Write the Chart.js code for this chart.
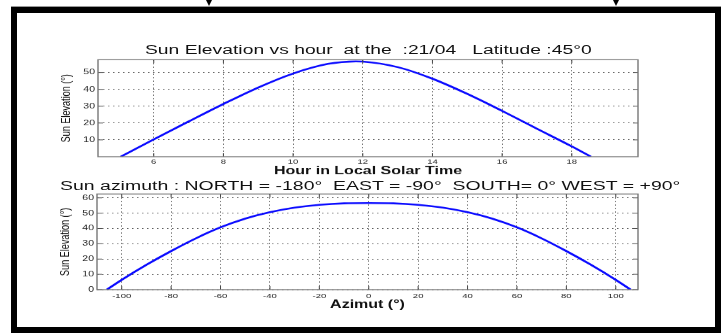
<!DOCTYPE html>
<html>
<head>
<meta charset="utf-8">
<script src="https://cdn.jsdelivr.net/npm/chart.js@4/dist/chart.umd.min.js"></script>
<style>
  body { margin: 0; background: #fff; width: 721px; height: 333px; overflow: hidden; position: relative; }
  #frame { position: absolute; left: 11px; top: 7px; width: 710px; height: 326px; box-sizing: border-box; border: 6px solid #000; }
  #topline { position: absolute; left: 11px; top: 6px; width: 710px; height: 1px; background: #999; }
  .arrow { position: absolute; top: 0; width: 0; height: 0; border-left: 3px solid transparent; border-right: 3px solid transparent; border-top: 6px solid #000; }
  #stage { position: absolute; left: 0; top: 0; width: 721px; height: 476px; transform: scaleY(0.6996); transform-origin: 0 0; }
  .title { position: absolute; white-space: pre; font-family: "Liberation Sans", Arial, sans-serif; color: #111; line-height: 1; transform-origin: 0 50%; }
  canvas { position: absolute; }
</style>
</head>
<body>
<div id="topline"></div>
<div id="frame"></div>
<div class="arrow" style="left:206px"></div>
<div class="arrow" style="left:613px"></div>

<div id="stage">
  <div class="title" id="t1" data-cx="368" data-cy="70" data-w="447" style="font-size:19px">Sun Elevation vs hour  at the  :21/04   Latitude :45°0</div>
  <div class="title" id="t2" data-cx="370" data-cy="265" data-w="620" style="font-size:19px">Sun azimuth : NORTH = -180°  EAST = -90°  SOUTH= 0° WEST = +90°</div>
  <canvas id="chartHour" width="680" height="190" style="left:20px;top:76px"></canvas>
  <canvas id="chartAzimut" width="680" height="180" style="left:20px;top:268px"></canvas>
</div>

<script>
// sun elevation against local solar time
let sunHours = [5.05, 6, 7, 8, 9, 10, 11, 11.8, 12, 13, 14, 15, 16, 17, 18, 18.55];
let sunElevationByHour = [0, 10.3, 20.9, 31.3, 41.1, 49.4, 55.1, 56.6, 56.5, 53.2, 46.3, 37.3, 27.2, 16.6, 6.1, 0];
let hourTicks = [6, 8, 10, 12, 14, 16, 18];
let hourElevTicks = [10, 20, 30, 40, 50];

// sun elevation against azimuth
let sunAzimut = [-106, -100, -90, -80, -70, -60, -50, -40, -30, -20, -10, 0, 10, 20, 30, 40, 50, 60, 70, 80, 90, 100, 106];
let sunElevationByAzimut = [0, 6.4, 16.2, 25.2, 33.5, 40.7, 46.4, 50.6, 53.6, 55.4, 56.4, 56.6, 56.4, 55.4, 53.6, 50.6, 46.4, 40.7, 33.5, 25.2, 16.2, 6.4, 0];
let azimutTicks = [-100, -80, -60, -40, -20, 0, 20, 40, 60, 80, 100];
let azimutElevTicks = [0, 10, 20, 30, 40, 50, 60];

// titles: stretch to the width seen in the picture
document.querySelectorAll(".title").forEach((el) => {
  let w = el.offsetWidth;
  let h = el.offsetHeight;
  let sx = Number(el.dataset.w) / w;
  el.style.left = Number(el.dataset.cx) - Number(el.dataset.w) / 2 + "px";
  el.style.top = Number(el.dataset.cy) - h / 2 + "px";
  el.style.transform = `scaleX(${sx})`;
});

const boxPlugin = {
  id: "matlabBox",
  afterDatasetsDraw(chart) {
    const { ctx, chartArea: a, scales } = chart;
    ctx.save();
    ctx.strokeStyle = "#444";
    ctx.lineWidth = 1;
    ctx.beginPath();
    scales.x.ticks.forEach((t) => {
      let p = scales.x.getPixelForValue(t.value);
      ctx.moveTo(p, a.bottom);
      ctx.lineTo(p, a.bottom - 5);
      ctx.moveTo(p, a.top);
      ctx.lineTo(p, a.top + 5);
    });
    scales.y.ticks.forEach((t) => {
      let p = scales.y.getPixelForValue(t.value);
      ctx.moveTo(a.left, p);
      ctx.lineTo(a.left + 5, p);
      ctx.moveTo(a.right, p);
      ctx.lineTo(a.right - 5, p);
    });
    ctx.stroke();
    ctx.strokeStyle = "#777";
    ctx.lineWidth = 1.4;
    ctx.strokeRect(a.left, a.top, a.width, a.height);
    ctx.restore();
  },
};

function makeChart(id, xs, ys, opt) {
  let points = xs.map((x, i) => ({ x: x, y: ys[i] }));
  return new Chart(document.getElementById(id), {
    type: "line",
    data: {
      datasets: [
        {
          data: points,
          borderColor: "#0a0aff",
          borderWidth: 2.6,
          pointRadius: 0,
          cubicInterpolationMode: "monotone",
          fill: false,
        },
      ],
    },
    plugins: [boxPlugin],
    options: {
      responsive: false,
      animation: false,
      events: [],
      layout: { padding: { left: 0, right: 62, top: 8, bottom: 0 } },
      plugins: { legend: { display: false }, tooltip: { enabled: false } },
      scales: {
        x: {
          type: "linear",
          min: opt.xMin,
          max: opt.xMax,
          afterBuildTicks: (s) => {
            s.ticks = opt.xTicks.map((v) => ({ value: v }));
          },
          afterFit: (s) => {
            s.height = opt.xHeight;
          },
          grid: { color: "#555", lineWidth: 1, drawTicks: false },
          border: { display: false, dash: [1.5, 3.5] },
          ticks: { padding: opt.xTickPad, color: "#222", font: { family: "Liberation Sans", size: 9.5 } },
          title: {
            display: true,
            text: opt.xTitle,
            color: "#111",
            font: { family: "Liberation Sans", size: 16, weight: "bold" },
            padding: { top: 0, bottom: opt.xTitlePad },
          },
        },
        y: {
          type: "linear",
          min: opt.yMin,
          max: opt.yMax,
          afterBuildTicks: (s) => {
            s.ticks = opt.yTicks.map((v) => ({ value: v }));
          },
          afterFit: (s) => {
            s.width = opt.yWidth;
          },
          grid: { color: "#555", lineWidth: 1, drawTicks: false },
          border: { display: false, dash: [1.5, 3.5] },
          ticks: { padding: 3, color: "#222", font: { family: "Liberation Sans", size: 10.5 } },
          title: {
            display: true,
            text: "Sun Elevation (°)",
            color: "#111",
            font: { family: "Liberation Sans", size: 13 },
            padding: { top: opt.yTitlePad, bottom: 0 },
          },
        },
      },
    },
  });
}

makeChart("chartHour", sunHours, sunElevationByHour, {
  xMin: 4.4,
  xMax: 19.9,
  yMin: 0,
  yMax: 57.6,
  xTicks: hourTicks,
  yTicks: hourElevTicks,
  xHeight: 42,
  yWidth: 78,
  xTickPad: 2,
  xTitle: "Hour in Local Solar Time",
  xTitlePad: 12,
  yTitlePad: 39,
});

makeChart("chartAzimut", sunAzimut, sunElevationByAzimut, {
  xMin: -110,
  xMax: 109,
  yMin: 0,
  yMax: 62.5,
  xTicks: azimutTicks,
  yTicks: azimutElevTicks,
  xHeight: 34,
  yWidth: 77,
  xTickPad: 3.6,
  xTitle: "Azimut (°)",
  xTitlePad: 2.4,
  yTitlePad: 37.5,
});
</script>
</body>
</html>
